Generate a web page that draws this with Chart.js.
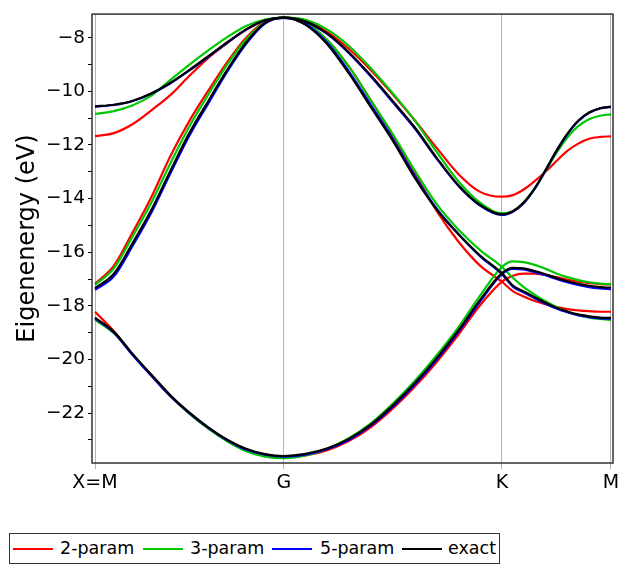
<!DOCTYPE html>
<html>
<head>
<meta charset="utf-8">
<script src="https://cdn.jsdelivr.net/npm/chart.js@4.4.0/dist/chart.umd.min.js"></script>
<style>
  body { margin: 0; background: #fff; font-family: "DejaVu Sans", sans-serif; }
  #wrap { position: relative; width: 641px; height: 568px; }
  #chart-box { position: absolute; left: 0; top: 0; width: 641px; height: 500px; }
  #legend { position: absolute; left: 9px; top: 533px; width: 489px; height: 29px; border: 1px solid #333; }
  .sw { position: absolute; top: 14px; width: 40px; height: 2px; }
  .lb { position: absolute; top: 3px; font-size: 17.5px; line-height: 22px; color: #000; white-space: nowrap; }
</style>
</head>
<body>
<div id="wrap">
  <div id="chart-box"><canvas id="bandChart"></canvas></div>
  <div id="legend"></div>
</div>
<script>
// k-path coordinate: X=M -> G -> K -> M
const xs = [0, 0.1, 0.2, 0.3, 0.4, 0.5, 0.6, 0.7, 0.8, 0.9, 1.0,
  1.1155, 1.2309, 1.3464, 1.4619, 1.5774, 1.6928, 1.8083, 1.9238, 2.0392, 2.1547,
  2.2124, 2.2701, 2.3279, 2.3856, 2.4434, 2.5011, 2.5588, 2.6166, 2.6743, 2.7321];
const kTicks = [0, 1, 2.1547, 2.7321];
const kLabels = ['X=M', 'G', 'K', 'M'];
const yTicks = [-23, -22, -21, -20, -19, -18, -17, -16, -15, -14, -13, -12, -11, -10, -9, -8];

const seriesNames = ['2-param', '3-param', '5-param', 'exact'];
const seriesColors = ['#ff0000', '#00c800', '#0000ff', '#000000'];

// 2-param
const p2Low = [-18.22, -18.95, -19.82, -20.62, -21.38, -22.02, -22.57, -23.03, -23.38, -23.58, -23.64,
  -23.58, -23.38, -23.03, -22.52, -21.83, -21.02, -20.10, -19.08, -17.98, -17.10,
  -16.88, -16.80, -16.80, -16.85, -16.93, -17.02, -17.10, -17.15, -17.19, -17.20];
const p2Mid = [-17.18, -16.50, -15.25, -13.92, -12.40, -11.10, -9.97, -8.91, -8.00, -7.40, -7.25,
  -7.45, -8.10, -9.10, -10.35, -11.65, -13.05, -14.45, -15.60, -16.50, -17.10,
  -17.45, -17.65, -17.82, -17.94, -18.05, -18.12, -18.17, -18.20, -18.22, -18.22];
const p2Up = [-11.67, -11.56, -11.22, -10.70, -10.13, -9.42, -8.75, -8.20, -7.71, -7.36, -7.25,
  -7.36, -7.78, -8.43, -9.22, -10.12, -11.08, -12.10, -13.08, -13.75, -13.93,
  -13.87, -13.66, -13.35, -13.00, -12.60, -12.22, -11.95, -11.77, -11.70, -11.68];

// 3-param
const p3Low = [-18.52, -19.02, -19.82, -20.60, -21.36, -22.02, -22.58, -23.05, -23.42, -23.62, -23.68,
  -23.58, -23.33, -22.93, -22.37, -21.64, -20.80, -19.85, -18.80, -17.62, -16.55,
  -16.34, -16.37, -16.47, -16.62, -16.79, -16.93, -17.04, -17.12, -17.17, -17.19];
const p3Mid = [-17.22, -16.60, -15.40, -14.13, -12.67, -11.30, -10.12, -9.00, -8.07, -7.42, -7.25,
  -7.45, -8.10, -9.10, -10.35, -11.60, -12.95, -14.20, -15.15, -15.92, -16.55,
  -16.95, -17.30, -17.58, -17.83, -18.04, -18.22, -18.35, -18.44, -18.49, -18.52];
const p3Up = [-10.84, -10.74, -10.52, -10.15, -9.57, -9.00, -8.47, -7.98, -7.56, -7.32, -7.25,
  -7.33, -7.70, -8.32, -9.15, -10.08, -11.08, -12.25, -13.35, -14.15, -14.55,
  -14.47, -14.14, -13.62, -12.97, -12.30, -11.72, -11.30, -11.04, -10.91, -10.86];

// 5-param
const p5Low = [-18.47, -19.00, -19.84, -20.62, -21.37, -22.00, -22.55, -23.01, -23.36, -23.55, -23.62,
  -23.55, -23.34, -22.99, -22.46, -21.76, -20.94, -20.02, -18.98, -17.84, -16.82,
  -16.62, -16.64, -16.74, -16.86, -17.00, -17.12, -17.22, -17.30, -17.35, -17.38];
const p5Mid = [-17.40, -16.90, -15.75, -14.50, -13.05, -11.65, -10.45, -9.27, -8.23, -7.47, -7.26,
  -7.50, -8.20, -9.28, -10.52, -11.78, -13.15, -14.37, -15.32, -16.15, -16.82,
  -17.28, -17.50, -17.72, -17.92, -18.10, -18.24, -18.35, -18.42, -18.47, -18.48];
const p5Up = [-10.57, -10.51, -10.36, -10.08, -9.70, -9.22, -8.71, -8.19, -7.70, -7.36, -7.26,
  -7.41, -7.87, -8.59, -9.46, -10.41, -11.38, -12.50, -13.52, -14.26, -14.61,
  -14.49, -14.17, -13.64, -12.95, -12.23, -11.60, -11.11, -10.80, -10.64, -10.58];

// exact
const exLow = [-18.44, -18.97, -19.80, -20.58, -21.34, -21.98, -22.53, -22.99, -23.33, -23.53, -23.60,
  -23.52, -23.31, -22.95, -22.42, -21.71, -20.89, -19.96, -18.92, -17.78, -16.78,
  -16.58, -16.60, -16.70, -16.82, -16.96, -17.08, -17.18, -17.25, -17.30, -17.32];
const exMid = [-17.34, -16.80, -15.65, -14.40, -12.95, -11.55, -10.36, -9.20, -8.18, -7.45, -7.25,
  -7.52, -8.25, -9.35, -10.60, -11.85, -13.22, -14.40, -15.32, -16.12, -16.78,
  -17.24, -17.46, -17.68, -17.88, -18.07, -18.21, -18.32, -18.39, -18.44, -18.45];
const exUp = [-10.56, -10.50, -10.35, -10.07, -9.68, -9.20, -8.69, -8.17, -7.69, -7.35, -7.25,
  -7.40, -7.85, -8.56, -9.42, -10.37, -11.34, -12.47, -13.50, -14.24, -14.59,
  -14.47, -14.15, -13.63, -12.94, -12.22, -11.59, -11.10, -10.79, -10.63, -10.57];

const bandsByModel = [
  [p2Low, p2Mid, p2Up],
  [p3Low, p3Mid, p3Up],
  [p5Low, p5Mid, p5Up],
  [exLow, exMid, exUp]
];

const datasets = [];
bandsByModel.forEach((bands, m) => {
  bands.forEach(band => {
    datasets.push({
      label: seriesNames[m],
      data: xs.map((x, i) => ({ x: x, y: band[i] })),
      borderColor: seriesColors[m],
      borderWidth: 2.2,
      pointRadius: 0,
      fill: false,
      cubicInterpolationMode: 'monotone',
      order: 3 - m
    });
  });
});

const frame = {
  id: 'frame',
  afterDatasetsDraw(chart) {
    const { ctx, chartArea: a } = chart;
    ctx.save();
    ctx.strokeStyle = '#333';
    ctx.lineWidth = 1.5;
    ctx.strokeRect(a.left, a.top, a.right - a.left, a.bottom - a.top);
    ctx.restore();
  }
};

new Chart(document.getElementById('bandChart'), {
  type: 'line',
  data: { datasets: datasets },
  options: {
    responsive: true,
    maintainAspectRatio: false,
    animation: false,
    layout: { padding: { top: 3, right: 28, left: 0, bottom: 0 } },
    plugins: { legend: { display: false }, tooltip: { enabled: false } },
    scales: {
      x: {
        type: 'linear',
        min: -0.016,
        max: 2.743,
        afterBuildTicks: s => { s.ticks = kTicks.map(v => ({ value: v })); },
        afterFit: s => { s.height = 37; },
        ticks: {
          autoSkip: false,
          maxRotation: 0,
          color: '#000',
          font: { family: 'DejaVu Sans', size: 19 },
          padding: 3,
          callback: (v, i) => kLabels[i]
        },
        grid: { color: '#b4b4b4', tickColor: '#b4b4b4', tickLength: 6, lineWidth: 1 },
        border: { display: false }
      },
      y: {
        type: 'linear',
        min: -23.86,
        max: -7.12,
        afterBuildTicks: s => { s.ticks = yTicks.map(v => ({ value: v })); },
        afterFit: s => { s.width = 92; },
        ticks: {
          color: '#000',
          font: { family: 'DejaVu Sans', size: 18.5 },
          padding: 3,
          callback: v => (v % 2 === 0 ? String(v).replace('-', '\u2212') : '')
        },
        grid: { drawOnChartArea: false, tickColor: '#000', tickLength: 4 },
        border: { display: false },
        title: {
          display: true,
          text: 'Eigenenergy (eV)',
          color: '#000',
          font: { family: 'DejaVu Sans', size: 24 },
          padding: { top: 13, bottom: 0 }
        }
      }
    }
  },
  plugins: [frame]
});

// legend box
const legendLines = [13, 143, 272, 402];
const legendTexts = [60, 190, 320, 448];
const legend = document.getElementById('legend');
seriesNames.forEach((name, i) => {
  const sw = document.createElement('div');
  sw.className = 'sw';
  sw.style.left = (legendLines[i] - 10) + 'px';
  sw.style.background = seriesColors[i];
  legend.appendChild(sw);
  const lb = document.createElement('div');
  lb.className = 'lb';
  lb.style.left = (legendTexts[i] - 10) + 'px';
  lb.textContent = name;
  legend.appendChild(lb);
});
</script>
</body>
</html>
